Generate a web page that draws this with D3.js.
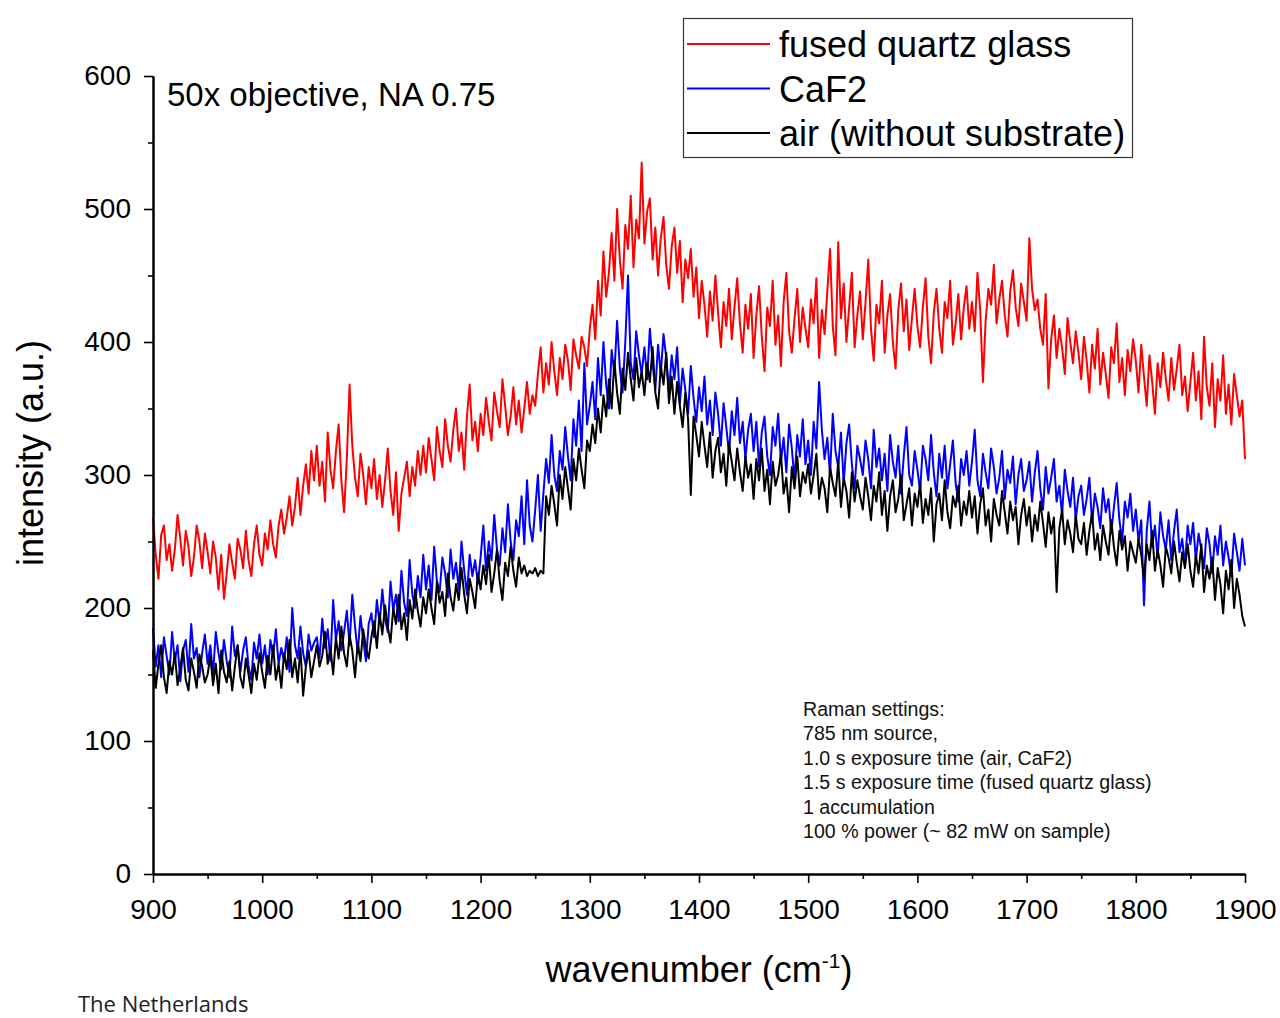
<!DOCTYPE html>
<html>
<head>
<meta charset="utf-8">
<script src="https://cdn.jsdelivr.net/npm/d3@7"></script>
<style>
  html, body { margin: 0; padding: 0; background: #fff; }
  svg { display: block; }
</style>
</head>
<body>
<svg id="chart" width="1280" height="1018"></svg>
<script>
// Raman spectra on an even wavenumber grid from 900 to 1900 cm-1 (2.5 cm-1 spacing)
const wavenumberMin = 900;
const wavenumberMax = 1900;

const fusedQuartz = [
  268,240,222,255,262,236,248,228,244,270,252,232,258,246,224,238,262,250,230,256,
  242,226,250,238,214,240,207,226,248,234,222,252,244,230,258,236,224,248,262,240,
  232,256,244,266,248,238,262,274,256,268,284,262,276,298,270,292,308,286,318,296,
  322,292,310,280,332,304,290,318,338,296,272,312,368,322,298,284,316,300,278,306,
  290,312,282,300,276,296,320,288,270,302,258,286,298,310,284,306,292,318,300,322,
  302,328,312,296,336,318,306,342,322,310,334,350,318,332,304,344,368,326,340,318,
  346,330,358,340,326,362,348,336,372,352,330,344,366,338,356,332,350,370,346,360,
  352,376,396,362,384,368,400,378,360,388,372,398,386,364,402,390,380,404,396,382,
  410,428,402,446,420,468,434,452,482,446,500,462,440,488,470,510,456,492,478,535,
  474,498,508,462,486,450,478,494,458,440,472,486,452,476,430,462,448,470,434,456,
  418,446,428,404,438,416,450,422,396,430,412,440,402,426,448,414,392,428,410,436,
  388,420,442,404,378,426,412,446,398,420,382,430,452,408,392,418,440,400,426,410,
  396,432,414,448,388,424,406,438,470,412,390,475,418,444,400,426,452,396,420,438,
  402,430,462,410,386,428,414,446,392,420,436,400,380,424,444,408,432,394,418,440,
  412,396,426,448,404,384,422,440,410,392,430,418,446,398,414,436,402,426,442,410,
  430,408,452,424,370,416,440,428,458,414,432,446,420,404,438,454,426,412,444,430,
  416,478,440,424,432,410,398,436,365,402,420,388,410,396,376,418,400,384,408,392,
  372,404,386,362,398,380,410,368,392,376,358,396,384,414,370,388,360,394,378,402,
  386,362,398,374,352,390,370,346,384,366,392,372,356,388,364,380,398,360,374,348,
  370,392,356,378,342,404,366,352,384,336,372,356,390,346,368,338,376,360,344,356,
  312
];

const caf2 = [
  185,156,172,148,178,164,150,182,160,172,145,168,176,152,188,162,170,148,166,180,
  158,172,150,182,166,154,176,160,148,186,164,172,152,168,178,156,146,174,162,180,
  158,172,150,176,164,184,158,170,160,178,152,200,172,162,186,166,156,180,168,174,
  178,162,192,170,184,160,206,176,190,168,182,198,172,210,186,166,194,176,160,188,
  196,178,206,188,214,192,182,220,198,210,190,228,204,194,236,210,200,224,208,240,
  214,232,206,246,220,212,238,226,208,244,222,234,214,250,228,210,240,224,236,218,
  238,262,228,250,236,270,244,232,260,242,278,250,236,266,254,284,248,296,262,250,
  274,300,258,286,312,294,330,300,288,318,304,336,314,296,342,322,356,318,384,338,
  352,370,342,388,360,400,368,350,394,376,416,380,362,400,450,384,372,408,390,376,
  396,372,410,384,364,398,376,406,388,362,390,372,396,354,380,364,346,382,358,340,
  366,348,374,338,356,330,362,346,322,354,336,316,348,330,358,324,340,312,334,346,
  318,340,306,332,344,314,300,336,322,346,310,328,302,338,320,296,330,314,342,308,
  326,300,340,320,370,334,312,328,300,346,318,306,332,294,324,338,308,290,322,312,
  300,326,312,290,334,306,320,296,316,288,330,310,298,322,286,314,336,300,292,318,
  304,288,322,312,296,330,302,284,316,298,322,290,308,326,294,280,312,300,318,292,
  310,334,296,284,316,302,290,320,306,286,298,318,282,304,294,314,278,300,312,288,
  296,310,280,302,318,290,274,306,286,298,312,280,292,270,304,288,276,298,266,284,
  292,270,282,298,264,286,276,260,290,272,282,256,276,294,266,250,280,268,286,258,
  274,250,266,202,258,280,246,262,238,272,254,244,266,236,258,274,242,252,232,262,
  248,264,236,256,244,230,260,248,226,254,240,262,232,250,238,224,256,242,228,252,
  232
];

const air = [
  168,140,158,172,148,136,160,150,166,142,155,170,146,138,162,152,140,165,156,144,
  150,164,142,158,136,168,152,144,160,138,156,172,148,140,162,150,136,158,146,166,
  152,140,164,150,172,146,158,140,166,154,176,148,162,144,170,134,156,168,148,160,
  172,156,164,182,158,170,150,178,162,186,166,156,180,168,148,174,160,184,170,162,
  178,190,170,196,180,202,186,174,200,188,210,184,196,176,206,192,214,198,186,208,
  196,214,200,188,220,204,212,194,226,208,198,218,206,230,210,196,222,212,200,226,
  214,232,218,240,212,226,244,220,206,234,224,246,228,216,238,226,232,224,228,226,
  230,224,228,226,284,270,292,278,262,300,282,306,290,274,312,296,320,304,290,326,
  318,338,324,350,332,360,344,372,350,386,362,346,380,364,392,372,356,388,366,378,
  360,384,370,396,362,350,382,368,392,354,374,346,370,352,336,362,342,285,344,330,
  314,340,322,306,332,298,318,328,302,316,292,324,310,296,320,302,288,314,298,308,
  282,312,296,320,288,304,278,310,292,300,316,286,298,272,306,290,314,284,302,294,
  308,286,300,316,282,298,290,272,306,294,284,310,276,298,288,268,302,280,296,284,
  274,298,284,266,292,280,302,270,288,258,284,296,272,282,300,266,278,290,262,286,
  276,294,264,282,270,290,250,278,286,266,296,272,260,284,276,292,262,280,270,288,
  268,284,256,278,290,262,274,250,282,270,262,288,272,256,280,266,276,248,270,282,
  262,276,250,270,258,280,264,246,272,256,268,212,260,274,248,266,256,242,270,252,
  248,264,240,258,272,244,256,236,262,250,240,266,246,232,258,244,254,228,250,242,
  234,252,240,222,248,236,258,228,244,232,216,246,238,226,250,234,220,242,230,248,
  228,216,240,226,248,212,232,222,238,206,230,218,196,228,214,236,200,222,210,194,
  186
];

const seriesNames = ["fused quartz glass", "CaF2", "air (without substrate)"];
const seriesColors = ["#ff0000", "#0000ff", "#000000"];
const seriesValues = [fusedQuartz, caf2, air];

const xTicks = [900,1000,1100,1200,1300,1400,1500,1600,1700,1800,1900];
const xMinorTicks = [950,1050,1150,1250,1350,1450,1550,1650,1750,1850];
const yTicks = [0,100,200,300,400,500,600];
const yMinorTicks = [50,150,250,350,450,550];

const settingsLines = [
  "Raman settings:",
  "785 nm source,",
  "1.0 s exposure time (air, CaF2)",
  "1.5 s exposure time (fused quartz glass)",
  "1 accumulation",
  "100 % power (~ 82 mW on sample)"
];

// ---- layout ----
const svg = d3.select("#chart");
const plot = { left: 153, right: 1245, top: 76, bottom: 874 };
const font = "'Liberation Sans', Arial, sans-serif";

const x = d3.scaleLinear().domain([wavenumberMin, wavenumberMax]).range([plot.left, plot.right]);
const y = d3.scaleLinear().domain([0, 600]).range([plot.bottom, plot.top]);

const toPoints = vals => {
  const step = (wavenumberMax - wavenumberMin) / (vals.length - 1);
  return vals.map((v, i) => ({ w: wavenumberMin + i * step, v }));
};
const line = d3.line().x(d => x(d.w)).y(d => y(d.v));

// spectra: red first, black drawn on top
const lines = svg.append("g");
seriesValues.forEach((vals, i) => {
  lines.append("path")
    .datum(toPoints(vals))
    .attr("fill", "none")
    .attr("stroke", seriesColors[i])
    .attr("stroke-width", 2)
    .attr("stroke-linejoin", "round")
    .attr("d", line);
});

// ---- axes ----
const styleAxis = g => {
  g.selectAll("path.domain").attr("stroke", "#000").attr("stroke-width", 2);
  g.selectAll("line").attr("stroke", "#000").attr("stroke-width", 1.6);
  g.selectAll("text").attr("font-family", font).attr("font-size", 28).attr("fill", "#000");
};

const xAxis = svg.append("g").attr("transform", `translate(0,${plot.bottom})`);
xAxis.append("g").call(d3.axisBottom(x).tickValues(xMinorTicks).tickSize(5).tickSizeOuter(0).tickFormat(""));
xAxis.append("g").call(d3.axisBottom(x).tickValues(xTicks).tickSize(9).tickSizeOuter(0)
  .tickPadding(16).tickFormat(d3.format("d")));
styleAxis(xAxis);

const yAxis = svg.append("g").attr("transform", `translate(${plot.left},0)`);
yAxis.append("g").call(d3.axisLeft(y).tickValues(yMinorTicks).tickSize(5).tickSizeOuter(0).tickFormat(""));
yAxis.append("g").call(d3.axisLeft(y).tickValues(yTicks).tickSize(9).tickSizeOuter(0)
  .tickPadding(13).tickFormat(d3.format("d")));
styleAxis(yAxis);

// ---- axis titles ----
svg.append("text")
  .attr("transform", "translate(43,453) rotate(-90)")
  .attr("text-anchor", "middle")
  .attr("font-family", font).attr("font-size", 36)
  .text("intensity (a.u.)");

const xTitle = svg.append("text")
  .attr("x", 699).attr("y", 982)
  .attr("text-anchor", "middle")
  .attr("font-family", font).attr("font-size", 36);
xTitle.append("tspan").text("wavenumber (cm");
xTitle.append("tspan").attr("dy", -14).attr("font-size", 21).text("-1");
xTitle.append("tspan").attr("dy", 14).text(")");

// ---- annotations ----
svg.append("text")
  .attr("x", 167).attr("y", 106)
  .attr("font-family", font).attr("font-size", 33)
  .text("50x objective, NA 0.75");

const settings = svg.append("text")
  .attr("font-family", font).attr("font-size", 19.6).attr("fill", "#111");
settingsLines.forEach((t, i) => {
  settings.append("tspan").attr("x", 803).attr("y", 716 + i * 24.4).text(t);
});

svg.append("text")
  .attr("x", 78).attr("y", 1012)
  .attr("font-family", "'Open Sans', sans-serif").attr("font-size", 22)
  .attr("fill", "#222")
  .text("The Netherlands");

// ---- legend ----
const legend = svg.append("g");
legend.append("rect")
  .attr("x", 683.5).attr("y", 18.5).attr("width", 449).attr("height", 139)
  .attr("fill", "#fff").attr("stroke", "#333").attr("stroke-width", 1.2);
seriesNames.forEach((name, i) => {
  const cy = 44 + i * 44.5;
  legend.append("line")
    .attr("x1", 687).attr("x2", 770).attr("y1", cy).attr("y2", cy)
    .attr("stroke", seriesColors[i]).attr("stroke-width", 2);
  legend.append("text")
    .attr("x", 779).attr("y", cy + 13)
    .attr("font-family", font).attr("font-size", 36)
    .text(name);
});
</script>
</body>
</html>
